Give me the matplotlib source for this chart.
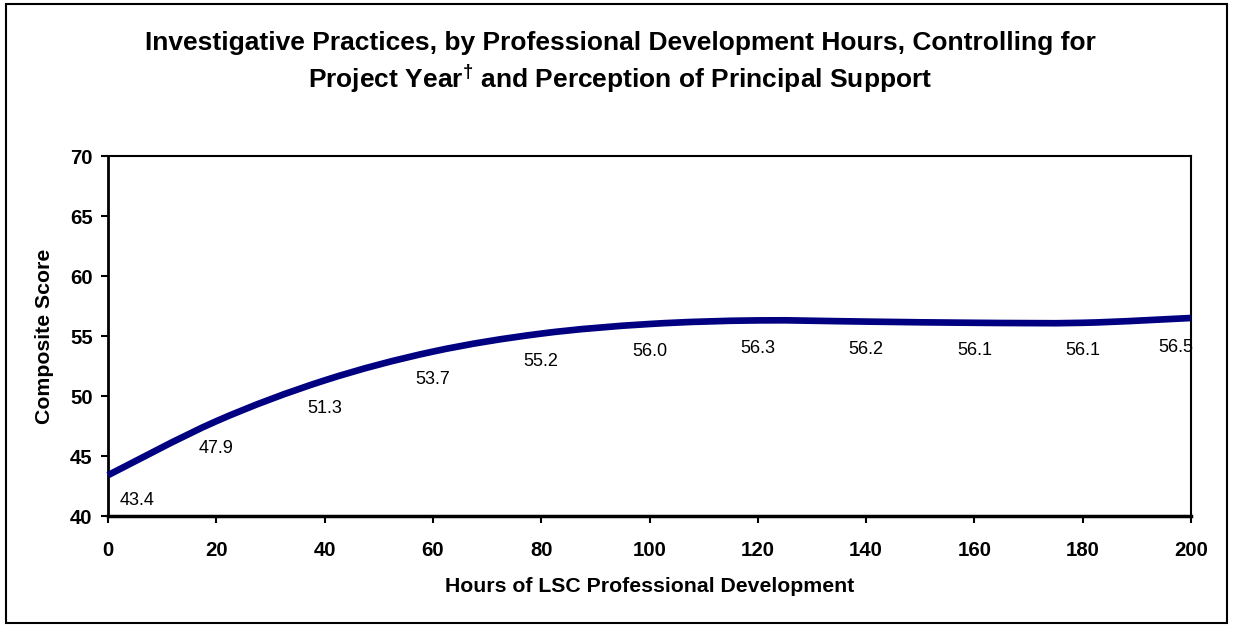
import matplotlib
matplotlib.use("Agg")
import matplotlib.pyplot as plt
from matplotlib.path import Path
from matplotlib.patches import PathPatch, Rectangle
import numpy as np

hours = [0, 20, 40, 60, 80, 100, 120, 140, 160, 180, 200]
scores = [43.4, 47.9, 51.3, 53.7, 55.2, 56.0, 56.3, 56.2, 56.1, 56.1, 56.5]
xticks = [0, 20, 40, 60, 80, 100, 120, 140, 160, 180, 200]
yticks = [40, 45, 50, 55, 60, 65, 70]

title_line1 = "Investigative Practices, by Professional Development Hours, Controlling for"
title_line2 = r"Project Year$^{\mathrm{†}}$ and Perception of Principal Support"
xlabel = "Hours of LSC Professional Development"
ylabel = "Composite Score"

plt.rcParams["font.family"] = ["Liberation Sans", "DejaVu Sans"]
plt.rcParams["mathtext.fontset"] = "custom"
plt.rcParams["mathtext.rm"] = "Liberation Sans:bold"
plt.rcParams["mathtext.bf"] = "Liberation Sans:bold"

fig = plt.figure(figsize=(12.33, 6.28), dpi=100)
ax = fig.add_axes([108/1233, (628-516)/628, (1191-108)/1233, (516-156)/628])

# smooth curve (Catmull-Rom converted to cubic Bezier) through the data points
x = np.array(hours, float)
y = np.array(scores, float)
verts = [(x[0], y[0])]
codes = [Path.MOVETO]
n = len(x)
for i in range(n - 1):
    p0 = np.array([x[max(i-1, 0)], y[max(i-1, 0)]])
    p1 = np.array([x[i], y[i]])
    p2 = np.array([x[i+1], y[i+1]])
    p3 = np.array([x[min(i+2, n-1)], y[min(i+2, n-1)]])
    c1 = p1 + (p2 - p0) / 6.0
    c2 = p2 - (p3 - p1) / 6.0
    verts += [tuple(c1), tuple(c2), tuple(p2)]
    codes += [Path.CURVE4, Path.CURVE4, Path.CURVE4]
patch = PathPatch(Path(verts, codes), facecolor="none", edgecolor="#000080",
                  lw=4.8, capstyle="butt", joinstyle="round", zorder=3, clip_on=False)
ax.add_patch(patch)

for i, (hx, sy) in enumerate(zip(hours, scores)):
    dx = 0
    dy = -20
    if i == 0:
        dx = 21
        dy = -18
    elif i == n - 1:
        dx = -11
        dy = -21
    ax.annotate(f"{sy:.1f}", (hx, sy), xytext=(dx, dy), textcoords="offset points",
                ha="center", va="center", fontsize=13, color="black")

ax.set_xlim(0, 200)
ax.set_ylim(40, 70)
ax.set_xticks(xticks)
ax.set_yticks(yticks)
ax.tick_params(axis="both", direction="out", length=5, width=1.5, labelsize=14.7)
ax.tick_params(axis="x", pad=13)
ax.tick_params(axis="y", pad=6)
for lab in ax.get_xticklabels() + ax.get_yticklabels():
    lab.set_fontweight("bold")
for s in ax.spines.values():
    s.set_linewidth(1.5)
ax.spines["left"].set_linewidth(2)
ax.spines["bottom"].set_linewidth(2.5)

fig.text(650/1233, 1 - 587/628, xlabel, ha="center", va="center", fontsize=15.3, fontweight="bold")
fig.text(45/1233, 1 - 336/628, ylabel, ha="center", va="center", rotation=90, fontsize=15.3, fontweight="bold")
fig.text(620/1233, 1 - 43/628, title_line1, ha="center", va="center", fontsize=19, fontweight="bold")
fig.text(620/1233, 1 - 79/628, title_line2, ha="center", va="center", fontsize=19, fontweight="bold")

fig.patches.append(Rectangle((6/1233, 1 - 623/628), (1227-6)/1233, (623-4)/628,
                             transform=fig.transFigure, fill=False, edgecolor="black", lw=1.5))

fig.savefig("out.png", dpi=100)
